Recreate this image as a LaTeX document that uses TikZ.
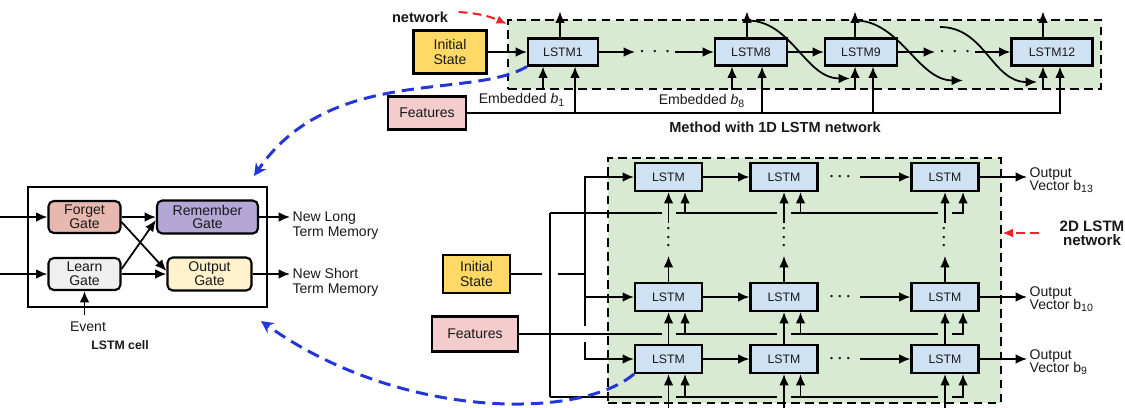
\documentclass[tikz,border=0pt]{standalone}
\usepackage{fontspec}
\setmainfont{Liberation Sans}
\usetikzlibrary{arrows.meta,positioning}

\definecolor{netgreen}{HTML}{D9EAD3}
\definecolor{cellblue}{HTML}{CFE2F3}
\definecolor{initcol}{HTML}{FFD966}
\definecolor{featcol}{HTML}{F4CCCC}
\definecolor{forgetcol}{HTML}{E6B8AF}
\definecolor{remembercol}{HTML}{B4A7D6}
\definecolor{learncol}{HTML}{EFEFEF}
\definecolor{outputcol}{HTML}{FFF2CC}
\definecolor{arcblue}{HTML}{2536D9}
\definecolor{arcred}{HTML}{E8262A}

\begin{document}
\begin{tikzpicture}[x=0.02cm,y=-0.02cm,
  every node/.style={font=\fontsize{8}{8.5}\selectfont,text=black!90},
  >={Latex[length=6.5pt,width=5.5pt]},
  line width=1pt,
  lstm/.style={draw,fill=cellblue,line width=1.2pt,inner sep=0pt,minimum width=1.34cm,minimum height=0.56cm,font=\fontsize{7}{8}\selectfont},
  inbox/.style={draw,line width=1.2pt,inner sep=0pt,align=center},
  gate/.style={draw,rounded corners=3pt,line width=1.2pt,inner sep=0pt,align=center,minimum width=1.44cm,minimum height=0.64cm,font=\fontsize{8}{7.8}\selectfont},
  netbox/.style={draw,fill=netgreen,line width=1.3pt,dash pattern=on 5pt off 3pt,inner sep=0pt},
  hdots/.style={minimum width=0.76cm,inner sep=0pt,font=\fontsize{5}{5}\selectfont},
  vdots/.style={inner sep=0pt,align=center,font=\fontsize{5}{4.8}\selectfont},
  gapg/.style={draw=netgreen,line width=3.5pt},
  gapw/.style={draw=white,line width=3.5pt},
  bluedash/.style={draw=arcblue,line width=1.7pt,dash pattern=on 7pt off 4pt,-{Stealth[length=7pt,width=7pt]}},
  reddash/.style={draw=arcred,line width=1.2pt,dash pattern=on 5pt off 3pt,-{Latex[length=6pt,width=5pt]}},
  lbl/.style={font=\fontsize{8.3}{8}\selectfont\bfseries},
  outlbl/.style={anchor=west,align=left,inner sep=1pt,font=\fontsize{8}{7.5}\selectfont}
]
\useasboundingbox (0,0) rectangle (1125,407);

% 1D network
\node[netbox,anchor=north west,minimum width=11.86cm,minimum height=1.38cm] (boxA) at (507,19) {};
\node[lbl] (netA) at (420,17) {network};
\node[inbox,fill=initcol,minimum width=1.46cm,minimum height=0.86cm] (iniA) at (450,52) {Initial\\State};
\node[inbox,fill=featcol,minimum width=1.56cm,minimum height=0.66cm] (featA) at (427,113) {Features};
\node[lstm,minimum width=1.4cm,minimum height=0.54cm] (l1) at (563,52) {LSTM1};
\node[hdots] (dA1) at (655,52) {\textbullet\hspace{5.5pt}\textbullet\hspace{5.5pt}\textbullet};
\node[lstm,minimum width=1.44cm,minimum height=0.54cm] (l8) at (751,52) {LSTM8};
\node[lstm,minimum width=1.44cm,minimum height=0.54cm] (l9) at (861,52) {LSTM9};
\node[hdots] (dA2) at (955,52) {\textbullet\hspace{5.5pt}\textbullet\hspace{5.5pt}\textbullet};
\node[lstm,minimum width=1.62cm,minimum height=0.54cm] (l12) at (1052,52) {LSTM12};
\coordinate (c11) at (940,27);
\node (embA1) at (522,100) {Embedded \textit{b}\textsubscript{1}};
\node (embA8) at (702,101) {Embedded \textit{b}\textsubscript{8}};
\node[lbl] (capA) at (775,127) {Method with 1D LSTM network};

\draw[->] (iniA.east |- l1) -- (l1);
\draw[->] (l1) -- (dA1);
\draw[->] (dA1) -- (l8);
\draw[->] (l8) -- (l9);
\draw[->] (l9) -- (dA2);
\draw[->] (dA2) -- (l12);
\draw[->] ([xshift=-0.06cm]l1.north) -- ++(0,-26);
\draw[->] ([xshift=-0.08cm]l8.north) -- ++(0,-26);
\draw[->] ([xshift=-0.12cm]l9.north) -- ++(0,-26);
\draw[->] ([xshift=-0.18cm]l12.north) -- ++(0,-26);
\draw[->] ([xshift=-0.08cm]l8.north) ++(0,-17) .. controls +(45,0) and +(-45,0) .. ++(103,58);
\draw[->] ([xshift=-0.12cm]l9.north) ++(0,-17) .. controls +(45,0) and +(-45,0) .. ++(108,60);
\draw[->] (c11) .. controls +(45,0) and +(-45,0) .. ++(97,55);
\draw[<-] ([xshift=-0.4cm]l1.south) -- ++(0,23);
\draw[<-] ([xshift=-0.38cm]l8.south) -- ++(0,23);
\draw[<-] ([xshift=-0.12cm]l9.south) -- ++(0,23);
\draw[<-] ([xshift=-0.18cm]l12.south) -- ++(0,23);
\draw[->] (featA) -| ([xshift=0.24cm]l1.south);
\draw[->] (featA) -| ([xshift=0.22cm]l8.south);
\draw[->] (featA) -| ([xshift=0.24cm]l9.south);
\draw[->] (featA) -| ([xshift=0.16cm]l12.south);
\draw[reddash] (netA.east) ++(4,-5) to[bend left=10] ([yshift=-0.1cm]boxA.north west);

% LSTM cell
\node[draw,line width=1.2pt,minimum width=4.78cm,minimum height=2.4cm] (cell) at (147.5,247) {};
\node[gate,fill=forgetcol] (forget) at (84.5,217) {Forget\\Gate};
\node[gate,fill=remembercol,minimum width=2.02cm,minimum height=0.66cm] (remember) at (207.5,217) {Remember\\Gate};
\node[gate,fill=learncol] (learn) at (84.5,274) {Learn\\Gate};
\node[gate,fill=outputcol,minimum width=1.68cm,minimum height=0.66cm] (output) at (209.5,274) {Output\\Gate};
\node[anchor=north west,align=left,inner sep=1pt] (longmem) at (290,209) {New Long\\Term Memory};
\node[anchor=north west,align=left,inner sep=1pt] (shortmem) at (290,266) {New Short\\Term Memory};
\node (event) at (88,327) {Event};
\node[lbl,font=\fontsize{7}{8}\selectfont\bfseries] (cellcap) at (120,345) {LSTM cell};

\draw[<-] (forget.west) -- ++(-49,0);
\draw[<-] (learn.west) -- ++(-49,0);
\draw[->] (forget) -- (remember);
\draw[->] (learn) -- (output);
\draw[->] ([yshift=-0.1cm]forget.east) -- ([yshift=0.06cm]output.west);
\draw[->] ([yshift=0.1cm]learn.east) -- ([yshift=-0.06cm]remember.west);
\draw[->] (remember.east) -- (remember.east -| longmem.west);
\draw[->] (output.east) -- (output.east -| shortmem.west);
\draw[->] (event.north -| learn.south) -- (learn.south);

% 2D network
\node[netbox,anchor=north west,minimum width=7.86cm,minimum height=4.9cm] (boxB) at (607,157) {};
\node[inbox,fill=initcol,minimum width=1.34cm,minimum height=0.76cm] (iniB) at (476.5,274) {Initial\\State};
\node[inbox,fill=featcol,minimum width=1.72cm,minimum height=0.7cm] (featB) at (475,334) {Features};
\node[lstm] (t1) at (668.5,177) {LSTM};
\node[lstm] (t2) at (784,177) {LSTM};
\node[hdots] (td) at (840,177) {\textbullet\hspace{3pt}\textbullet\hspace{3pt}\textbullet};
\node[lstm] (t3) at (945,177) {LSTM};
\node[lstm] (m1) at (668.5,297) {LSTM};
\node[lstm] (m2) at (784,297) {LSTM};
\node[hdots] (md) at (840,297) {\textbullet\hspace{3pt}\textbullet\hspace{3pt}\textbullet};
\node[lstm] (m3) at (945,297) {LSTM};
\node[lstm] (b1) at (668.5,359) {LSTM};
\node[lstm] (b2) at (784,359) {LSTM};
\node[hdots] (bd) at (840,359) {\textbullet\hspace{3pt}\textbullet\hspace{3pt}\textbullet};
\node[lstm] (b3) at (945,359) {LSTM};
\node[vdots] (vd1) at (668.5,238) {\textbullet\\\textbullet\\\textbullet};
\node[vdots] (vd2) at (784,238) {\textbullet\\\textbullet\\\textbullet};
\node[vdots] (vd3) at (944,238) {\textbullet\\\textbullet\\\textbullet};
\node[outlbl] (outT) at (1027,180) {Output\\Vector b\textsubscript{13}};
\node[outlbl] (outM) at (1027,299) {Output\\Vector b\textsubscript{10}};
\node[outlbl] (outB) at (1027,362) {Output\\Vector b\textsubscript{9}};
\node[lbl,align=center,font=\fontsize{8.6}{8}\selectfont\bfseries] (net2) at (1092,233) {2D LSTM\\network};
\coordinate (busI) at (585,274);
\coordinate (busT) at (550,213);
\coordinate (busB) at (550,397);

\draw (iniB) -- (busI);
\draw[->] (busI) |- (t1);
\draw[->] (busI) |- (m1);
\draw[->] (busI) |- (b1);
\draw[gapw] (busT |- iniB.east) ++(-8,0) -- ++(16,0);
\draw (busT) -- (busB);
\draw[gapw] (busI |- featB.east) ++(0,-8) -- ++(0,16);
\draw[->] (featB) -| ([xshift=0.33cm]m1.south);
\draw[->] (featB) -| ([xshift=0.33cm]m2.south);
\draw[->] (featB) -| ([xshift=0.36cm]m3.south);
\draw[->] (busT) -| ([xshift=0.33cm]t1.south);
\draw[->] (busT) -| ([xshift=0.33cm]t2.south);
\draw[->] (busT) -| ([xshift=0.36cm]t3.south);
\draw[->] (busB) -| ([xshift=0.33cm]b1.south);
\draw[->] (busB) -| ([xshift=0.33cm]b2.south);
\draw[->] (busB) -| ([xshift=0.36cm]b3.south);
\draw[gapg] (t1.south |- busT) ++(-7,0) -- ++(14,0);
\draw[gapg] (t2.south |- busT) ++(-7,0) -- ++(14,0);
\draw[gapg] (t3.south |- busT) ++(-7,0) -- ++(14,0);
\draw[gapg] (m1.south |- featB.east) ++(-7,0) -- ++(14,0);
\draw[gapg] (m2.south |- featB.east) ++(-7,0) -- ++(14,0);
\draw[gapg] (m3.south |- featB.east) ++(-7,0) -- ++(14,0);
\draw[gapg] (b1.south |- busB) ++(-7,0) -- ++(14,0);
\draw[gapg] (b2.south |- busB) ++(-7,0) -- ++(14,0);
\draw[gapg] (b3.south |- busB) ++(-7,0) -- ++(14,0);
\draw[<-] (t1.south) -- ++(0,31);
\draw[<-] (t2.south) -- ++(0,31);
\draw[<-] (t3.south) -- ++(0,31);
\draw[->] (m1.north) -- ++(0,-26);
\draw[->] (m2.north) -- ++(0,-26);
\draw[->] (m3.north) -- ++(0,-26);
\draw[->] (b1) -- (m1);
\draw[->] (b2) -- (m2);
\draw[->] (b3) -- (m3);
\draw[<-] (b1.south) -- ++(0,36);
\draw[<-] (b2.south) -- ++(0,36);
\draw[<-] (b3.south) -- ++(0,36);
\draw[->] (t1) -- (t2);
\draw[->] (td) -- (t3);
\draw[->] (m1) -- (m2);
\draw[->] (md) -- (m3);
\draw[->] (b1) -- (b2);
\draw[->] (bd) -- (b3);
\draw[->] (t3) -- (t3 -| outT.west);
\draw[->] (m3) -- (m3 -| outM.west);
\draw[->] (b3) -- (b3 -| outB.west);
\draw[reddash] ([xshift=-0.28cm]net2.west) -- (net2 -| boxB.east);

% arcs to the cell
\draw[bluedash] (l1.south west) .. controls (470,100) and (330,65) .. ([xshift=-0.28cm,yshift=0.2cm]cell.north east);
\draw[bluedash] (b1.south west) .. controls (580,420) and (400,420) .. ([xshift=-0.14cm,yshift=-0.26cm]cell.south east);
\end{tikzpicture}
\end{document}
